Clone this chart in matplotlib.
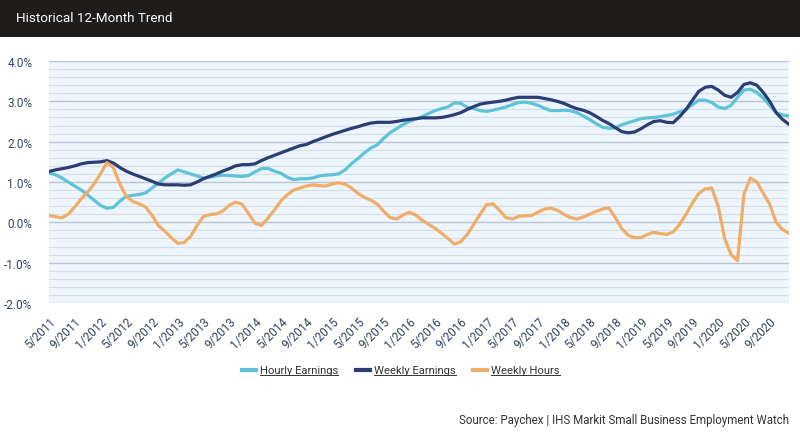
import numpy as np
import matplotlib.pyplot as plt
from matplotlib.patches import Rectangle
from matplotlib.lines import Line2D

plt.rcParams['font.family'] = ['Roboto', 'DejaVu Sans']

# monthly series, 5/2011 .. 12/2020
hourly_earnings = [
    1.22, 1.18, 1.10, 1.00, 0.90, 0.80, 0.68, 0.55, 0.42, 0.35,
    0.37, 0.52, 0.65, 0.67, 0.69, 0.73, 0.85, 0.97, 1.10, 1.20,
    1.30, 1.25, 1.20, 1.15, 1.10, 1.12, 1.15, 1.17, 1.16, 1.15,
    1.14, 1.16, 1.25, 1.33, 1.34, 1.27, 1.22, 1.12, 1.06, 1.08,
    1.08, 1.10, 1.15, 1.17, 1.18, 1.20, 1.30, 1.45, 1.58, 1.72,
    1.84, 1.92, 2.08, 2.22, 2.32, 2.42, 2.50, 2.56, 2.62, 2.70,
    2.77, 2.82, 2.86, 2.96, 2.95, 2.85, 2.82, 2.77, 2.75, 2.78,
    2.82, 2.86, 2.92, 2.97, 2.98, 2.95, 2.90, 2.83, 2.77, 2.77,
    2.78, 2.77, 2.72, 2.64, 2.55, 2.45, 2.36, 2.33, 2.34, 2.42,
    2.47, 2.52, 2.57, 2.59, 2.60, 2.62, 2.65, 2.68, 2.74, 2.80,
    2.92, 3.03, 3.03, 2.97, 2.86, 2.82, 2.90, 3.10, 3.28, 3.30,
    3.22, 3.08, 2.90, 2.72, 2.66, 2.64,
]
weekly_earnings = [
    1.26, 1.30, 1.33, 1.36, 1.40, 1.45, 1.48, 1.49, 1.50, 1.53,
    1.47, 1.36, 1.27, 1.20, 1.14, 1.08, 1.02, 0.95, 0.93, 0.93,
    0.93, 0.92, 0.93, 1.00, 1.08, 1.14, 1.20, 1.27, 1.33, 1.40,
    1.43, 1.43, 1.45, 1.53, 1.60, 1.66, 1.72, 1.78, 1.84, 1.90,
    1.93, 2.00, 2.06, 2.12, 2.18, 2.23, 2.28, 2.33, 2.37, 2.42,
    2.46, 2.48, 2.48, 2.48, 2.50, 2.53, 2.55, 2.57, 2.59, 2.59,
    2.59, 2.60, 2.63, 2.67, 2.72, 2.80, 2.87, 2.93, 2.96, 2.98,
    3.00, 3.03, 3.07, 3.10, 3.10, 3.10, 3.10, 3.07, 3.04, 3.00,
    2.95, 2.88, 2.82, 2.78, 2.72, 2.63, 2.53, 2.45, 2.35, 2.25,
    2.22, 2.24, 2.32, 2.42, 2.50, 2.52, 2.48, 2.47, 2.62, 2.80,
    3.03, 3.25, 3.35, 3.37, 3.28, 3.15, 3.10, 3.22, 3.42, 3.46,
    3.40, 3.22, 3.00, 2.72, 2.55, 2.43,
]
weekly_hours = [
    0.17, 0.14, 0.11, 0.20, 0.38, 0.58, 0.75, 0.95, 1.20, 1.48,
    1.36, 0.95, 0.65, 0.52, 0.46, 0.38, 0.18, -0.08, -0.22, -0.38,
    -0.52, -0.50, -0.35, -0.08, 0.15, 0.19, 0.21, 0.28, 0.42, 0.50,
    0.45, 0.22, -0.02, -0.08, 0.10, 0.30, 0.52, 0.68, 0.80, 0.85,
    0.90, 0.93, 0.91, 0.90, 0.95, 0.98, 0.95, 0.85, 0.72, 0.62,
    0.55, 0.45, 0.28, 0.12, 0.08, 0.18, 0.25, 0.18, 0.05, -0.05,
    -0.15, -0.27, -0.40, -0.54, -0.48, -0.30, -0.05, 0.20, 0.44, 0.46,
    0.30, 0.12, 0.08, 0.15, 0.16, 0.17, 0.25, 0.33, 0.35, 0.30,
    0.20, 0.12, 0.08, 0.13, 0.20, 0.27, 0.33, 0.36, 0.12, -0.15,
    -0.32, -0.38, -0.38, -0.30, -0.25, -0.28, -0.30, -0.24, -0.05, 0.20,
    0.48, 0.72, 0.83, 0.85, 0.40, -0.40, -0.80, -0.95, 0.70, 1.10,
    1.00, 0.72, 0.45, 0.00, -0.18, -0.27,
]

months = []
for i in range(len(hourly_earnings)):
    mo = (5 - 1 + i) % 12 + 1
    yr = 2011 + (5 - 1 + i) // 12
    months.append(str(mo) + "/" + str(yr))

series_names = ["Hourly Earnings", "Weekly Earnings", "Weekly Hours"]
colors = ["#5ec3d9", "#2b3d73", "#f0ad68"]
tick_color = "#33415f"

fig = plt.figure(figsize=(8, 4.39), dpi=100)
W, H = 800, 439

# black header band
fig.add_artist(Rectangle((0, 1 - 38 / H), 1, 38 / H, transform=fig.transFigure,
                         facecolor="#1f1c1c", edgecolor="none"))
fig.text(16 / W, 1 - 19 / H, "Historical 12-Month Trend", color="white",
         fontsize=9.7, va="center", ha="left")

ax = fig.add_axes([49 / W, 1 - 304 / H, 740 / W, 242 / H])
ax.set_facecolor("#eef5fc")
x = np.arange(len(hourly_earnings))

for vals, c in zip([hourly_earnings, weekly_earnings, weekly_hours], colors):
    ax.plot(x, vals, color=c, lw=2.3, solid_joinstyle="round", zorder=3)

ax.set_xlim(0, len(x) - 1)
ax.set_ylim(-2, 4)
ax.set_yticks(np.arange(-2, 4.01, 1))
ax.set_yticklabels(["%.1f%%" % v for v in np.arange(-2, 4.01, 1)])
ax.set_yticks(np.arange(-2, 4.01, 0.2), minor=True)
ax.grid(axis="y", which="minor", color="#d3dfec", lw=0.8, zorder=1)
ax.grid(axis="y", which="major", color="#b7c5d6", lw=1.0, zorder=1)

ax.set_xticks(x[::4])
ax.set_xticklabels(months[::4], rotation=45, ha="right", rotation_mode="anchor")
ax.tick_params(axis="x", length=0, pad=8, labelsize=8.5, labelcolor=tick_color)
ax.tick_params(axis="y", which="both", length=0, pad=12, labelsize=8.5,
               labelcolor=tick_color)
for s in ax.spines.values():
    s.set_visible(False)

# legend with underlined labels
fig.canvas.draw()
renderer = fig.canvas.get_renderer()
ly = 1 - 371 / H
handle_x = [242, 356, 473]
for hx, name, c in zip(handle_x, series_names, colors):
    fig.add_artist(Line2D([hx / W, (hx + 14) / W], [ly, ly], color=c, lw=3,
                          transform=fig.transFigure))
    t = fig.text((hx + 18) / W, ly, name, fontsize=8.1, color="#333333",
                 va="center", ha="left")
    bb = t.get_window_extent(renderer).transformed(fig.transFigure.inverted())
    fig.add_artist(Line2D([bb.x0, bb.x1], [bb.y0 + 0.5 / H, bb.y0 + 0.5 / H],
                          color="#333333", lw=0.7, transform=fig.transFigure))

fig.text(789 / W, 1 - 421 / H,
         "Source: Paychex | IHS Markit Small Business Employment Watch",
         fontsize=8.3, color="#333333", ha="right", va="center")

fig.savefig("out.png", dpi=100)
